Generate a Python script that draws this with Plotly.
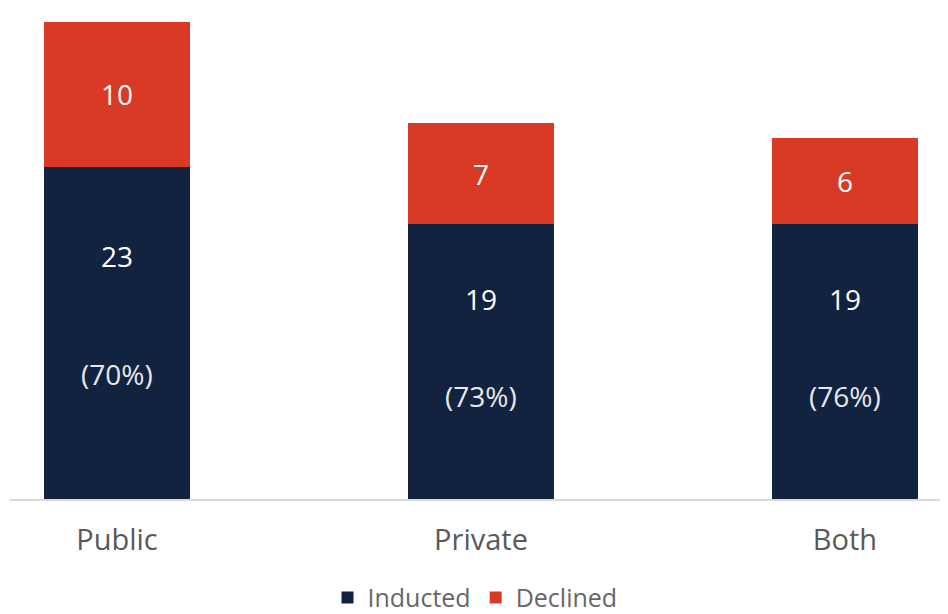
import plotly.graph_objects as go

# Données
categories = ["Public", "Private", "Both"]
inducted = [23, 19, 19]
declined = [10, 7, 6]

NAVY = "#12233f"
RED = "#d93a26"
FONT = "Open Sans, sans-serif"

totals = [a + b for a, b in zip(inducted, declined)]
pct = [round(100 * a / t) for a, t in zip(inducted, totals)]

fig = go.Figure()
fig.add_trace(go.Bar(
    x=categories, y=inducted, name="Inducted",
    marker=dict(color=NAVY, line=dict(width=0)),
    hoverinfo="skip",
))
fig.add_trace(go.Bar(
    x=categories, y=declined, name="Declined",
    marker=dict(color=RED, line=dict(width=0)),
    text=[str(v) for v in declined],
    textposition="inside", insidetextanchor="middle",
    textfont=dict(family=FONT, size=28, color="white"),
    hoverinfo="skip",
))

# Étiquettes dans les barres bleues
for c, v, p in zip(categories, inducted, pct):
    fig.add_annotation(x=c, y=v * 0.73, text=str(v), showarrow=False,
                       font=dict(family=FONT, size=28, color="white"))
    fig.add_annotation(x=c, y=v * 0.375, text=f"({p}%)", showarrow=False,
                       font=dict(family=FONT, size=28, color="#e8e8ec"))

# la page ajoute une marge de 8 px autour de la figure
fig.update_layout(
    barmode="stack",
    bargap=0.6,
    width=940, height=606,
    margin=dict(l=2, r=8, t=14, b=115, autoexpand=False),
    plot_bgcolor="white", paper_bgcolor="white",
    font=dict(family=FONT, color="#595959"),
    showlegend=True,
    legend=dict(orientation="h", x=0.5, xanchor="center", y=-0.207, yanchor="middle",
                font=dict(family=FONT, size=25, color="#666666"),
                traceorder="normal", itemwidth=30),
    xaxis=dict(
        range=[-0.294, 2.261],
        showline=True, linecolor="#d9d9d9", linewidth=1.5,
        showgrid=False, ticks="", ticklabelstandoff=14,
        tickfont=dict(family=FONT, size=29, color="#595959"),
    ),
    yaxis=dict(range=[0, 33], visible=False),
)

fig.write_html("out.html")
